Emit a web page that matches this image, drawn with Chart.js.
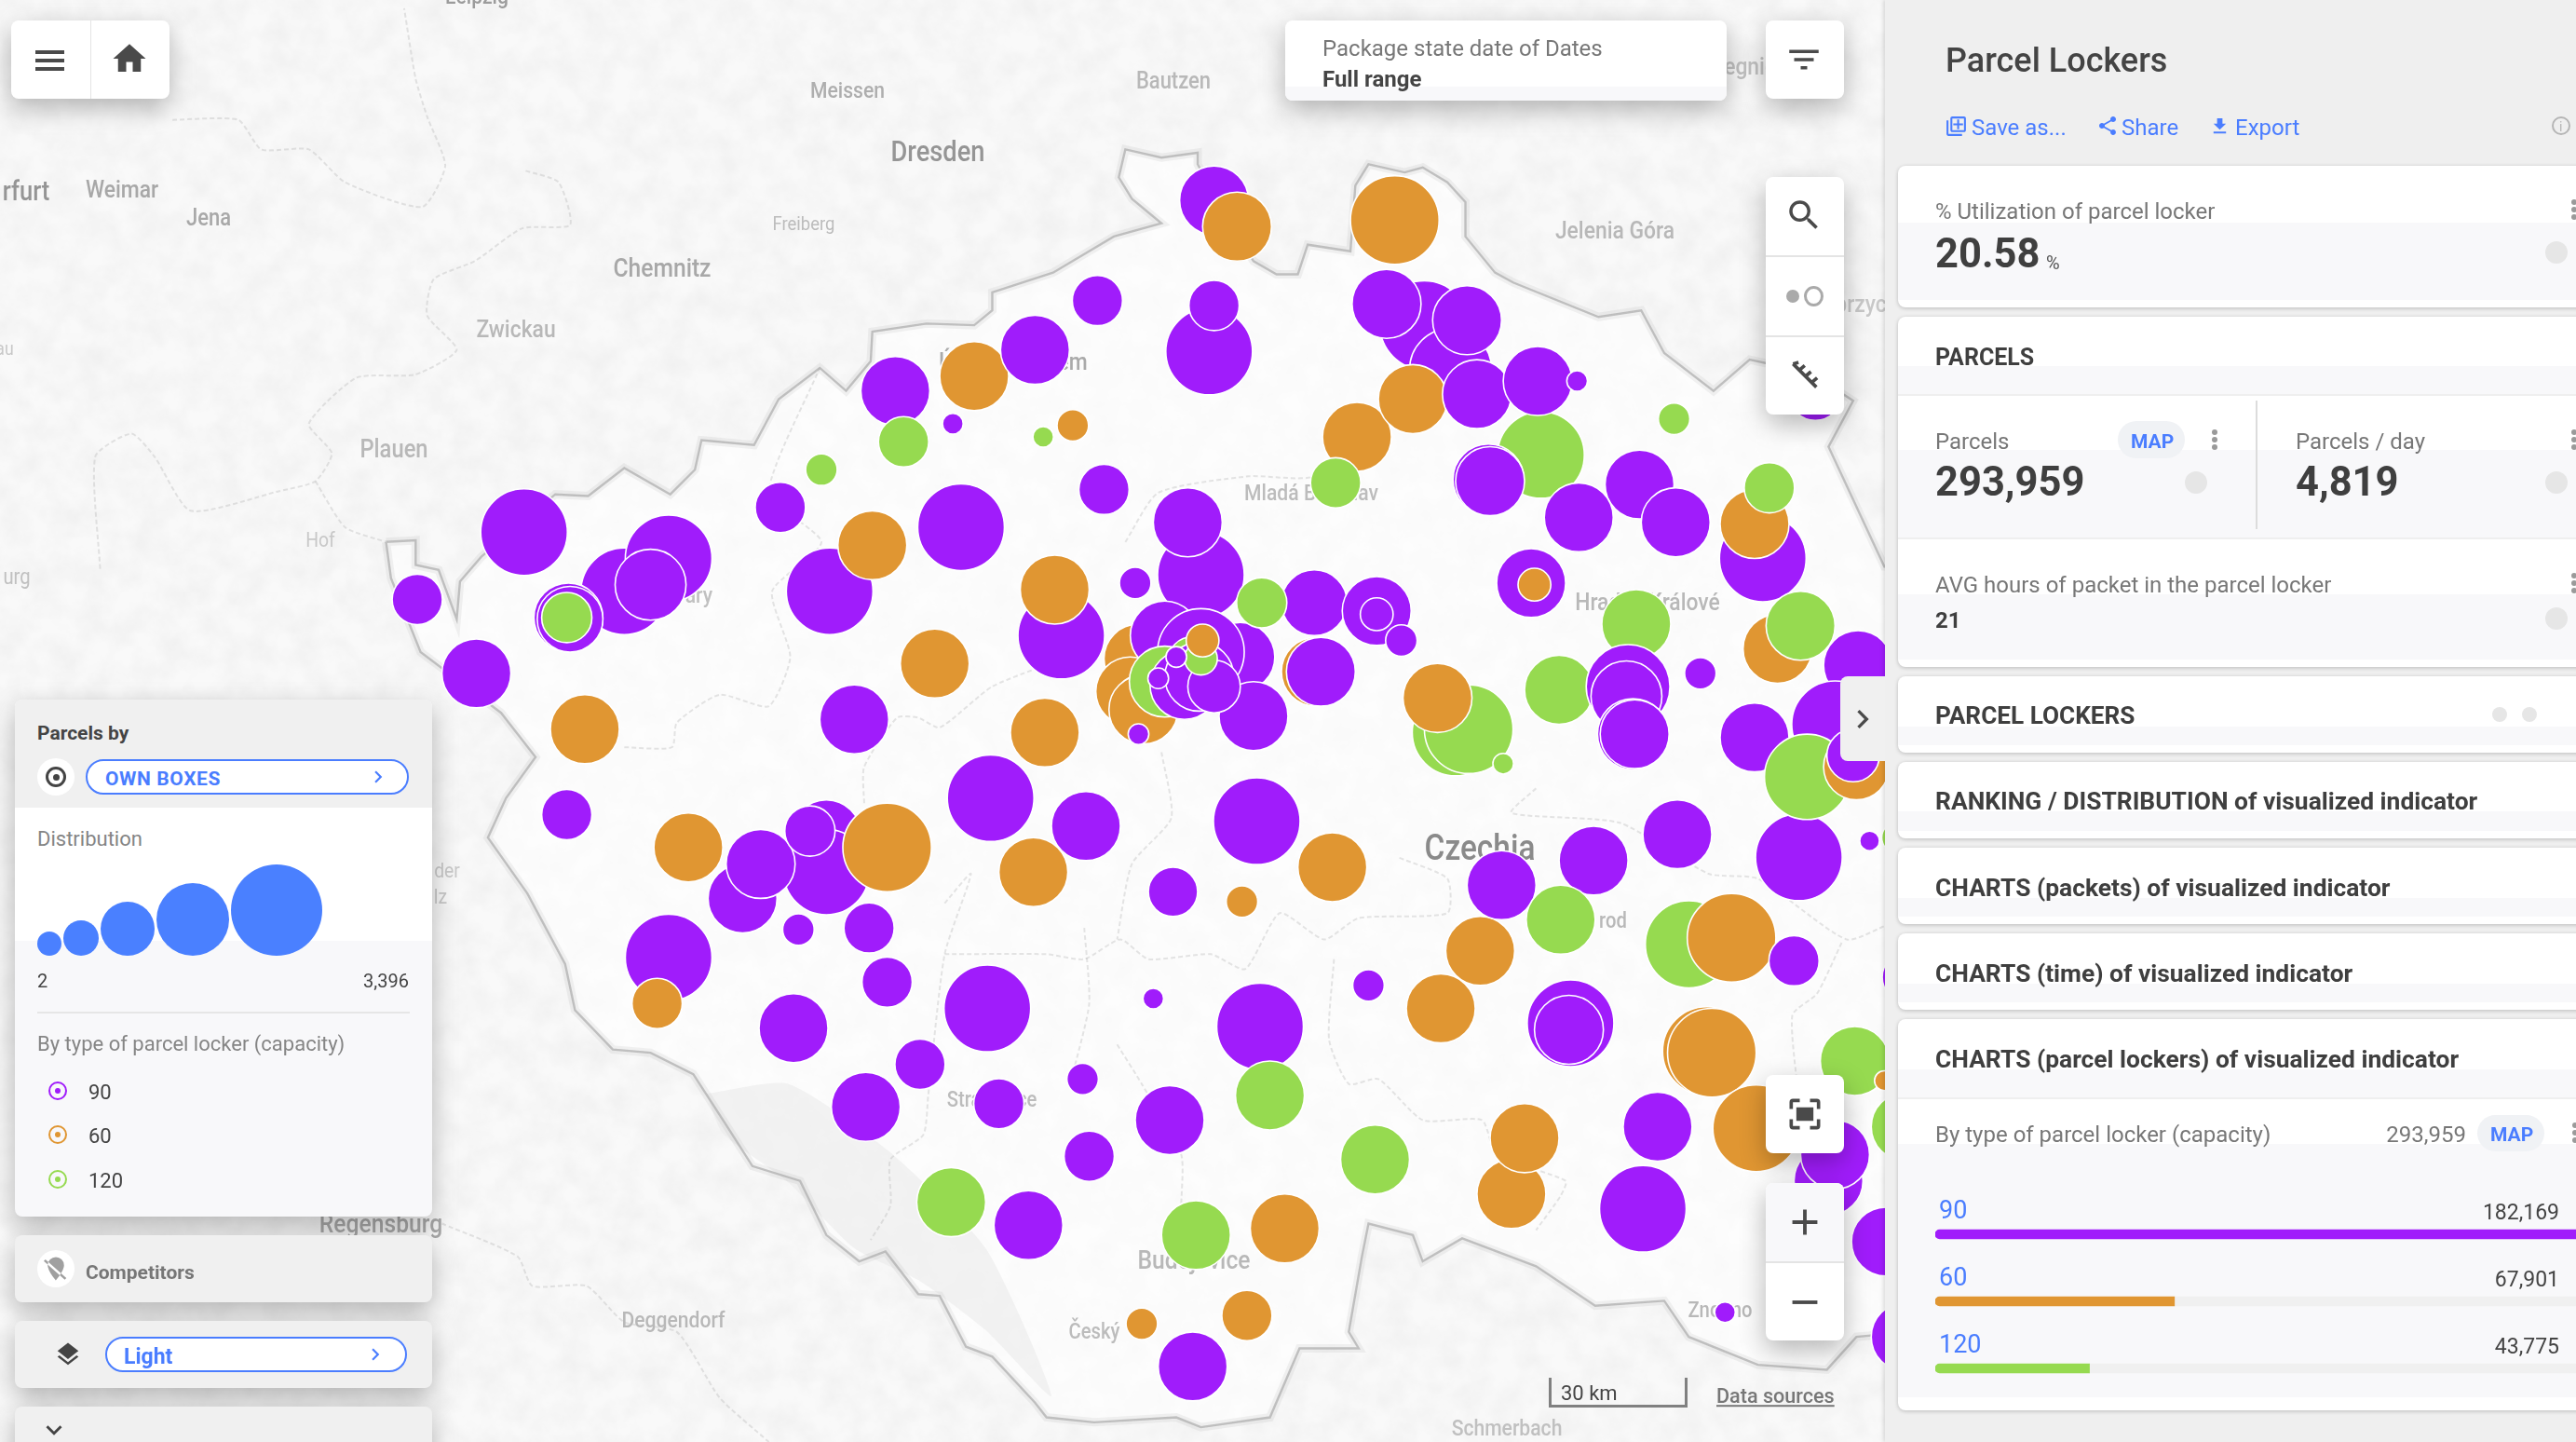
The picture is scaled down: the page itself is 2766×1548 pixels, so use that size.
<!DOCTYPE html>
<html><head><meta charset="utf-8">
<script src="https://cdn.jsdelivr.net/npm/chart.js@4"></script>
<style>
html,body{margin:0;padding:0;width:2766px;height:1548px;overflow:hidden;background:#f9f9f9;font-family:Roboto,sans-serif}
#root{position:absolute;left:0;top:0;width:2766px;height:1548px;overflow:hidden}
canvas{position:absolute}
.t{position:absolute;white-space:nowrap;line-height:1;transform:translateY(-50%)}
.l{position:absolute;white-space:nowrap;line-height:1;transform:translate(-50%,-50%) scaleX(.88)}
.b{position:absolute;box-sizing:border-box}
svg.i{position:absolute;overflow:visible}
</style></head><body><div id="root">
<svg style="position:absolute;left:0;top:0" width="2766" height="1548"><filter id="n" x="0" y="0" width="100%" height="100%"><feTurbulence type="fractalNoise" baseFrequency="0.035" numOctaves="5" seed="7"/><feColorMatrix values="0 0 0 0 0.6  0 0 0 0 0.6  0 0 0 0 0.6  0.3 0 0 0 -0.09"/></filter><rect width="2766" height="1548" filter="url(#n)"/></svg>
<canvas id="mapCanvas" width="2766" height="1548" style="left:0;top:0;width:2766px;height:1548px"></canvas>
<div id="labels"></div>
<canvas id="bubbleCanvas" width="2766" height="1548" style="left:0;top:0;width:2766px;height:1548px"></canvas>
<div id="ui"></div>
</div>
<script>
// ---------- DATA ----------
const lockerX = [739,753,849,668,593,630,545,550,580,635,653,500,736,739,867,844,883,893,938,826,813,860,899,936,960,906,907,1019,1105,998,1020,961,1073,1068,1077,
 319,254,380,407,396,346,347,345,290,475,505,531,585,672,356,345,569,520,636,603,661,629,419,
 503,503,452,463,493,540,486,529,540,407,400,483,601,560,527,608,659,702,712,663,626,579,728,695,726,
 731,723,691,646,642,693,688,696,709,755,763,731,709,721,726,730,739,731,716,705,732,693,
 800,768,838,838,853,801,804,886,894,875,915,
 765,811,714,756,877,901,914,970,950,1021,1095,1138,1028,1054,1092,833,767,773,956,955,1039,1042,1009,1069,1000,920,928,837,782,759,1050,
 1129,1147,1113,1117,1148,1160,1160,1161,1155,
 932,934,996,949,991,990,994,995,1035,1068,1082,1096,1131,1117,1100,1130,1128];
const lockerY = [122,138,134,183,229,213,238,269,258,266,259,286,214,186,198,185,225,195,277,266,294,243,240,232,232,292,293,255,240,295,318,315,340,319,297,
 324,365,360,340,356,376,377,376,410,309,360,332,321,298,444,496,404,438,446,486,503,531,516,
 508,531,547,526,506,516,566,565,598,583,611,626,614,648,674,672,657,608,682,704,746,732,752,806,832,
 350,318,355,387,359,401,421,432,387,400,436,397,415,417,403,412,418,401,400,413,390,447,
 367,367,372,374,390,409,409,446,444,425,465,
 500,528,543,549,614,579,539,524,560,508,522,512,575,571,585,600,625,667,623,627,640,641,686,687,736,727,693,706,748,801,799,
 646,658,719,703,756,814,686,595,510,
 355,356,380,420,418,424,447,447,410,449,395,381,405,441,473,467,460];
const lockerParcels = [1938,1938,3203,1029,1938,1938,1938,1029,174,174,405,405,3062,1029,3203,1938,2746,1938,3062,1938,1029,1938,1938,1938,174,2050,1938,405,1125,1938,1938,1938,3062,1938,1029,
 3062,1029,3062,3062,2050,1938,1758,1029,1938,1029,3062,1938,3062,1029,1938,1029,1938,1938,1938,3062,1938,1938,1938,
 1938,2970,1938,1938,1029,3203,405,1029,1029,3062,1029,1938,3062,1029,1938,1029,405,174,1938,1029,1938,1938,1938,405,1938,
 3062,1938,405,3062,1938,1938,1938,1938,1938,1938,1938,3062,2050,1938,1029,1938,1125,439,174,174,439,174,
 1758,1029,1938,439,405,1938,1938,3062,3203,1938,174,
 3062,1938,989,405,1938,1938,1938,1938,1938,1938,3062,158,3086,3203,1029,405,3062,1938,3062,1938,3203,3203,1938,3062,3062,1938,1938,1938,1938,1029,174,
 1938,158,1938,1938,1938,1938,1938,1029,405,
 1938,439,1938,1938,2857,2050,2050,1938,405,1938,1938,1938,1938,3062,2970,1758,1125];
const lockerCapacity = [90,60,60,90,60,90,90,120,90,120,60,120,90,90,90,90,90,90,120,60,120,60,90,90,90,90,90,120,90,90,90,90,90,60,120,
 90,90,90,90,90,90,90,120,90,90,90,60,90,90,60,90,60,90,60,90,90,60,60,
 90,90,90,90,90,60,90,90,90,90,60,90,90,90,90,90,90,90,90,90,90,120,120,60,90,
 90,90,90,90,60,60,60,60,90,90,90,90,120,90,120,90,90,120,90,90,60,90,
 90,120,90,90,90,60,90,120,120,60,120,
 90,60,90,60,60,60,90,90,120,90,90,90,120,60,90,90,90,120,90,90,60,60,90,60,90,60,60,120,60,60,90,
 120,60,90,90,90,90,120,90,120,
 90,60,120,120,90,90,90,90,90,90,60,120,90,90,120,60,90];
const capacityLabels = ['90','60','120'];
const capacityParcels = [182169,67901,43775];
const distributionValues = [239,511,1190,2151,3396];
const distributionMax = 3396;
// Country outline and regional lines in map grid units
const borderX = [235,253,253,267,278,280,293,338,358,380,408,423,427,459,474,499,515,530,531,564,593,604,604,641,678,707,689,681,685,707,729,729,745,763,777,790,796,822,825,833,855,866,881,892,892,910,921,973,999,1013,1043,1065,1102,1128,1113,1147,1220,1220,1151,1130,1112,1070,1028,1013,971,935,890,866,860,833,829,821,827,791,773,731,716,666,637,630,604,588,572,559,539,523,503,487,458,442,422,396,373,350,344,321,297,308,326,305,256,238,235];
const borderY = [330,329,344,347,377,354,339,301,302,285,301,286,268,271,243,224,238,220,202,197,198,189,178,166,144,136,121,108,91,96,93,100,130,159,167,167,149,153,113,100,105,102,111,123,144,166,172,193,189,215,238,219,227,244,272,345,350,800,812,814,834,831,814,792,795,771,754,768,752,745,765,811,821,821,863,869,863,866,863,854,826,820,789,788,762,768,752,719,710,685,654,641,639,615,587,544,510,486,461,434,397,352,330];
const regionLines = [
 [[105,73],[145,73],[159,91],[188,91],[210,111],[257,126],[271,101],[260,71],[253,48],[246,5]],
 [[320,104],[340,111],[347,137],[318,139],[289,159],[264,170],[260,192],[278,213],[253,228],[217,230],[188,258],[202,276],[192,293],[170,299],[116,311],[94,278],[80,264],[58,278],[61,347]],
 [[192,293],[210,321],[235,330]],
 [[380,455],[409,455],[412,440],[438,423],[468,430],[481,400],[470,360],[500,330],[468,300],[499,224]],
 [[526,489],[526,467],[546,437],[559,437],[572,443],[604,418],[650,400]],
 [[575,581],[637,581],[660,584],[682,572],[699,584],[737,581],[758,590],[779,556],[806,572],[827,559],[881,556],[881,535],[851,522]],
 [[575,550],[591,532],[575,581],[565,667],[562,691],[542,706],[542,734],[530,755]],
 [[660,565],[663,611],[653,654]],
 [[812,584],[809,633],[821,660],[839,657],[866,682],[902,682],[911,703],[953,719],[950,728],[935,749]],
 [[935,480],[920,495],[986,501],[1040,532],[1070,535],[1124,572],[1151,562]],
 [[1121,574],[1106,605],[1091,618],[1095,670]],
 [[707,458],[713,498],[689,526],[680,572]],
 [[680,636],[695,660],[719,703],[719,734]],
 [[685,330],[705,300],[760,290],[800,290],[850,250]],
 [[269,745],[315,765],[324,783],[357,783],[380,805],[412,811],[438,851],[468,878]]
];
const mountainArea = [[430,666],[480,660],[540,700],[600,760],[640,850],[600,810],[560,780],[520,760],[480,720],[440,690],[430,666]];
const cityLabels = [
 ['Leipzig',290,-2,24,'#9c9c9c',500],['Meissen',516,55,24,'#aeaeae',500],['Bautzen',714,49,25,'#b8b8b8',500],['Dresden',571,92,31,'#959595',500],
 ['rfurt',16,116,29,'#959595',500],['Weimar',74,115,26,'#a8a8a8',500],['Jena',127,132,25,'#a8a8a8',500],['Freiberg',489,136,21,'#bcbcbc',400],
 ['Chemnitz',403,163,28,'#a8a8a8',500],['Jelenia Góra',983,140,26,'#b8b8b8',500],['Zwickau',314,200,26,'#b8b8b8',500],['Plauen',240,273,27,'#b8b8b8',500],
 ['Hof',195,329,22,'#c8c8c8',400],['au',3,212,20,'#c8c8c8',400],['urg',10,351,23,'#c0c0c0',400],['Regensburg',232,745,28,'#a8a8a8',500],
 ['Deggendorf',410,803,24,'#b8b8b8',500],['Schmerbach',917,869,24,'#c0c0c0',500],['Czechia',901,516,38,'#8a8a8a',500],['Hradec Králové',1003,366,26,'#b8b8b8',500],
 ['Ústí nad Labem',617,220,26,'#aaaaaa',500],['Mladá Boleslav',798,300,24,'#bcbcbc',500],['Budějovice',727,767,28,'#b8b8b8',500],['Český',666,810,23,'#bcbcbc',500],
 ['Znojmo',1047,797,23,'#b8b8b8',500],['Legnica',1065,40,26,'#c0c0c0',500],['Wałbrzych',1125,185,26,'#c8c8c8',500],['rod',982,560,23,'#b8b8b8',500],
 ['der',272,530,22,'#c8c8c8',400],['lz',268,546,22,'#c8c8c8',400],['Strakonice',604,669,23,'#bcbcbc',500],['Karlovy Vary',400,362,24,'#c0c0c0',500]
];
const palette = {90:'#a01cfb',60:'#e09632',120:'#96da50'};
const accent = '#4a7dff';
// ---------- HELPERS ----------
const S = 2766/1568;
const ui = document.getElementById('ui');
function el(cls,css,html,parent){const d=document.createElement('div');d.className=cls;d.style.cssText=css;if(html!=null)d.textContent=html;(parent||ui).appendChild(d);return d;}
function box(x,y,w,h,bg,extra){return el('b',`left:${x}px;top:${y}px;width:${w}px;height:${h}px;background:${bg};${extra||''}`);}
function txt(x,y,s,size,color,weight,extra){return el('t',`left:${x}px;top:${y+1.5}px;font-size:${size}px;color:${color};font-weight:${weight||400};${extra||''}`,s);}
function rtxt(x,y,s,size,color,weight){return el('t',`right:${2766-x}px;top:${y+1.5}px;font-size:${size}px;color:${color};font-weight:${weight||400}`,s);}
function icon(x,y,size,path,color){const ns='http://www.w3.org/2000/svg';const v=document.createElementNS(ns,'svg');v.setAttribute('class','i');v.setAttribute('viewBox','0 0 24 24');v.setAttribute('width',size);v.setAttribute('height',size);v.style.left=(x-size/2)+'px';v.style.top=(y-size/2)+'px';const p=document.createElementNS(ns,'path');p.setAttribute('d',path);p.setAttribute('fill',color);v.appendChild(p);ui.appendChild(v);}
function dot(x,y,r,color){box(x-r,y-r,2*r,2*r,color,'border-radius:50%');}
function kebab(x,y,c){for(const d of [-8,0,8])dot(x,y+d,3.2,c||'#9a9a9a');}
const SH='box-shadow:0 10px 28px rgba(0,0,0,.28);';
const P={home:'M10 20v-6h4v6h5v-8h3L12 3 2 12h3v8z',search:'M15.5 14h-.79l-.28-.27A6.47 6.47 0 0 0 16 9.5 6.5 6.5 0 1 0 9.5 16c1.61 0 3.09-.59 4.23-1.57l.27.28v.79l5 4.99L20.49 19l-4.99-5zm-6 0C7.01 14 5 11.99 5 9.5S7.01 5 9.5 5 14 7.01 14 9.5 11.99 14 9.5 14z',filter:'M10 18h4v-2h-4v2zM3 6v2h18V6H3zm3 7h12v-2H6v2z',share:'M18 16.08c-.76 0-1.44.3-1.96.77L8.91 12.7c.05-.23.09-.46.09-.7s-.04-.47-.09-.7l7.05-4.11c.54.5 1.25.81 2.04.81 1.66 0 3-1.34 3-3s-1.34-3-3-3-3 1.34-3 3c0 .24.04.47.09.7L8.04 9.81C7.5 9.31 6.79 9 6 9c-1.66 0-3 1.34-3 3s1.34 3 3 3c.79 0 1.5-.31 2.04-.81l7.12 4.16c-.05.21-.08.43-.08.65 0 1.61 1.31 2.92 2.92 2.92 1.61 0 2.92-1.31 2.92-2.92s-1.31-2.92-2.92-2.92z',down:'M19 9h-4V3H9v6H5l7 7 7-7zM5 18v2h14v-2H5z',layers:'M11.99 18.54l-7.37-5.73L3 14.07l9 7 9-7-1.63-1.27-7.38 5.74zM12 16l7.36-5.73L21 9l-9-7-9 7 1.63 1.27L12 16z',right:'M10 6L8.59 7.41 13.17 12l-4.58 4.59L10 18l6-6z',more:'M16.59 8.59L12 13.17 7.41 8.59 6 10l6 6 6-6z',add:'M4 6H2v14c0 1.1.9 2 2 2h14v-2H4V6zm16-4H8c-1.1 0-2 .9-2 2v12c0 1.1.9 2 2 2h12c1.1 0 2-.9 2-2V4c0-1.1-.9-2-2-2zm0 14H8V4h12v12zm-1-7h-4V5h-2v4H9v2h4v4h2v-4h4V9z',crop:'M3 9V5a2 2 0 0 1 2-2h4v2H5v4H3zm12-6h4a2 2 0 0 1 2 2v4h-2V5h-4V3zM3 15h2v4h4v2H5a2 2 0 0 1-2-2v-4zm16 0h2v4a2 2 0 0 1-2 2h-4v-2h4v-4zM7 8h10v8H7z',plus:'M19 13h-6v6h-2v-6H5v-2h6V5h2v6h6v2z',minus:'M19 13H5v-2h14v2z',ruler:'M5 4l15 15M5 4l3.5-1M9 8l3.5-3M13 12l3.5-3M17 16l3.5-3',comp:'M12 2a7 7 0 0 0-7 7c0 5 7 13 7 13s7-8 7-13a7 7 0 0 0-7-7zM3 4l18 16-1.4 1.4L1.6 5.4z'};
// ---------- MAP LABELS (below the bubbles) ----------
const lab=document.getElementById('labels');
cityLabels.forEach(([s,x,y,z,c,w])=>el('l',`left:${x*S}px;top:${y*S}px;font-size:${z}px;color:${c};font-weight:${w}`,s,lab));
// ---------- CHARTS ----------
const gridScales = ()=>({x:{type:'linear',min:0,max:1568,display:false},y:{type:'linear',min:0,max:878,reverse:true,display:false}});
const base = {responsive:false,devicePixelRatio:1,animation:false,layout:{padding:0,autoPadding:false},plugins:{legend:{display:false},tooltip:{enabled:false}},events:[]};
const toPts = a=>a.map(([x,y])=>({x,y}));
const outline = borderX.map((x,i)=>({x,y:borderY[i]}));
new Chart(document.getElementById('mapCanvas'),{type:'line',data:{datasets:[
  ...regionLines.map((l,i)=>({data:toPts(l),borderColor:'rgba(175,175,175,.32)',borderWidth:2,borderDash:[5,3],pointRadius:0,tension:.2,fill:false,order:1})),
  {data:outline,borderColor:'rgba(175,175,175,.75)',borderWidth:2.4,pointRadius:0,tension:0,fill:false,order:2},
  {data:outline,borderColor:'rgba(160,160,160,.14)',borderWidth:9,pointRadius:0,tension:0,fill:false,order:3},
  {data:toPts(mountainArea),borderWidth:0,pointRadius:0,tension:.2,fill:'shape',backgroundColor:'rgba(232,232,232,.5)',order:4},
  {data:outline,borderWidth:0,pointRadius:0,tension:0,fill:'shape',backgroundColor:'rgba(255,255,255,.6)',order:5}
]},options:{...base,scales:gridScales()}});
const radiusOf = v=>49*Math.sqrt(v/distributionMax);
new Chart(document.getElementById('bubbleCanvas'),{type:'bubble',data:{datasets:[{
  data:lockerX.map((x,i)=>({x,y:lockerY[i],r:radiusOf(lockerParcels[i])})),
  backgroundColor:lockerCapacity.map(c=>palette[c]),borderColor:'#ffffff',borderWidth:1.6,hoverBorderWidth:1.6
}]},options:{...base,scales:gridScales()}});
// ---------- OVERLAY UI ----------
// top-left
box(12,22,170,84,'#fff','border-radius:8px;'+SH);box(97,22,1,84,'#e4e4e4');
for(const y of [54,63,72])box(38,y,31,4,'#4a4a4a');
icon(139,63,42,P.home,'#4a4a4a');
// date pill
box(1380,22,474,86,'#fff','border-radius:8px;'+SH);box(1380,93,474,15,'#f8f8fa','border-radius:0 0 8px 8px');
txt(1420,50,'Package state date of Dates',24,'#777');txt(1420,83,'Full range',24,'#444',700);
box(1896,22,84,84,'#fff','border-radius:8px;'+SH);icon(1937,64,42,P.filter,'#4a4a4a');
// tool column
box(1896,190,84,255,'#fff','border-radius:8px;'+SH);box(1896,274,84,2,'#e4e4e4');box(1896,360,84,2,'#e4e4e4');
icon(1937,231,42,P.search,'#4a4a4a');
dot(1925,318,7,'#aaa');box(1937,307,21,22,'#fff','border:3.5px solid #aaa;border-radius:50%');
{const ns='http://www.w3.org/2000/svg';const v=document.createElementNS(ns,'svg');v.setAttribute('class','i');v.setAttribute('viewBox','0 0 24 24');v.setAttribute('width',40);v.setAttribute('height',40);v.style.left='1917px';v.style.top='384px';const p=document.createElementNS(ns,'path');p.setAttribute('d',P.ruler);p.setAttribute('stroke','#4a4a4a');p.setAttribute('stroke-width','2.2');p.setAttribute('fill','none');v.appendChild(p);ui.appendChild(v);}
// zoom controls
box(1896,1154,84,84,'#fff','border-radius:8px;'+SH);icon(1938,1196,44,P.crop,'#4a4a4a');
box(1896,1270,84,169,'#fff','border-radius:8px;'+SH);box(1896,1270,84,84,'#f8f8fa','border-radius:8px 8px 0 0');box(1896,1354,84,2,'#e4e4e4');
icon(1938,1312,46,P.plus,'#4a4a4a');icon(1938,1398,46,P.minus,'#4a4a4a');
// scale and sources
box(1663,1479,149,32,'transparent','border-left:3px solid #808080;border-right:3px solid #808080;border-bottom:3px solid #808080');
txt(1676,1494,'30 km',22,'#444');
txt(1843,1497,'Data sources',21.6,'#777',500,'text-decoration:underline');
// left panel
box(16,751,448,555,'#f8f8fa','border-radius:8px;'+SH);
box(16,751,448,116,'#f0f0f0','border-radius:8px 8px 0 0');box(16,867,448,143,'#fff');
txt(40,785,'Parcels by',21,'#444',700);
dot(60,834,20,'#fff');box(49,823,22,22,'transparent','border:3px solid #444;border-radius:50%');dot(60,834,3.5,'#444');
box(92,815,347,38,'#fff',`border:2px solid ${accent};border-radius:19px`);
txt(113,834,'OWN BOXES',21,accent,700,'letter-spacing:.6px');icon(406,834,26,P.right,accent);
txt(40,899,'Distribution',22,'#858585');
const lc=document.createElement('canvas');lc.width=340;lc.height=120;lc.style.cssText='left:30px;top:920px;width:340px;height:120px';ui.appendChild(lc);
let run=10;
const legendPts=distributionValues.map(v=>{const r=radiusOf(v);const p={x:run+r,y:106-r,r};run+=2*r+2;return p;});
new Chart(lc,{type:'bubble',data:{datasets:[{data:legendPts,backgroundColor:'#4a80ff',borderWidth:0}]},options:{...base,scales:{x:{type:'linear',min:0,max:340,display:false},y:{type:'linear',min:0,max:120,reverse:true,display:false}}}});
txt(40,1051,'2',20,'#444');rtxt(439,1051,'3,396',20,'#444');
box(40,1086,400,2,'#e6e6e6');
txt(40,1119,'By type of parcel locker (capacity)',22,'#858585');
capacityLabels.forEach((c,i)=>{const y=[1171,1218,1266][i];box(52,y-10,20,20,'transparent',`border:2.5px solid ${palette[c]};border-radius:50%`);dot(62,y,3,palette[c]);txt(95,y,c,22,'#444');});
box(16,1326,448,72,'#f0f0f0','border-radius:8px;'+SH);dot(60,1362,20,'#fff');icon(60,1362,30,P.comp,'#a0a0a0');txt(92,1364,'Competitors',21,'#777',700);
box(16,1418,448,72,'#f0f0f0','border-radius:8px;'+SH);icon(73,1454,30,P.layers,'#444');
box(113,1435,324,38,'#fff',`border:2px solid ${accent};border-radius:19px`);txt(133,1454,'Light',23,accent,700);icon(403,1454,26,P.right,accent);
box(16,1510,448,60,'#f0f0f0','border-radius:8px;'+SH);icon(58,1535,34,P.more,'#444');
// right panel
box(2024,0,742,1548,'#efefef','box-shadow:-2px 0 4px rgba(0,0,0,.12)');
box(1976,726,48,91,'#f0f0f0','border-radius:8px 0 0 8px;');icon(2000,772,40,P.right,'#4a4a4a');
txt(2089,63,'Parcel Lockers',36,'#444',500);
icon(2100,135,25,P.add,accent);txt(2117,135,'Save as...',24,accent);
icon(2263,135,24,P.share,accent);txt(2278,135,'Share',24,accent);
icon(2383,135,23,P.down,accent);txt(2400,135,'Export',24,accent);
box(2740,125,20,20,'transparent','border:2px solid #b5b5b5;border-radius:50%');txt(2748,134,'i',14,'#b5b5b5');
function card(y1,y2,bands){box(2038,y1,760,y2-y1,'#fff','border-radius:8px;box-shadow:0 1px 4px rgba(0,0,0,.22)');(bands||[]).forEach(([a,b])=>box(2038,a,728,b-a,'#f8f8fa'));}
card(178,330,[[239,322]]);
txt(2078,225,'% Utilization of parcel locker',24,'#777');
txt(2078,271,'20.58',43.5,'#3f3f3f',700);txt(2197,280,'%',20,'#555');kebab(2764,225);dot(2745,271,12,'#e6e6e6');
card(340,716,[[393,423],[483,577],[638,708]]);
txt(2078,381,'PARCELS',25,'#3f3f3f',700);
box(2038,423,728,2,'#efefef');box(2038,577,728,2,'#efefef');box(2422,430,2,138,'#dcdcdc');
txt(2078,472,'Parcels',24,'#777');box(2274,452,72,40,'#f0f2f5','border-radius:20px');txt(2288,472,'MAP',21,accent,700);kebab(2378,472);
txt(2078,516,'293,959',43.5,'#3f3f3f',700);dot(2358,518,12,'#e6e6e6');
txt(2465,472,'Parcels / day',24,'#777');txt(2465,516,'4,819',43.5,'#3f3f3f',700);kebab(2764,472);dot(2745,518,12,'#e6e6e6');
txt(2078,626,'AVG hours of packet in the parcel locker',24,'#777');kebab(2764,626);
txt(2078,664,'21',24,'#3f3f3f',700);dot(2745,664,12,'#e6e6e6');
card(726,808,[[780,800]]);txt(2078,766,'PARCEL LOCKERS',26.2,'#3f3f3f',700);dot(2684,767,8,'#e6e6e6');dot(2716,767,8,'#e6e6e6');
card(818,900,[[871,892]]);txt(2078,858,'RANKING / DISTRIBUTION of visualized indicator',26.4,'#3f3f3f',700);
card(910,992,[[964,984]]);txt(2078,951,'CHARTS (packets) of visualized indicator',26.4,'#3f3f3f',700);
card(1002,1084,[[1056,1076]]);txt(2078,1043,'CHARTS (time) of visualized indicator',26.4,'#3f3f3f',700);
card(1094,1514,[[1148,1178],[1228,1500]]);txt(2078,1135,'CHARTS (parcel lockers) of visualized indicator',26.4,'#3f3f3f',700);
box(2038,1178,728,2,'#efefef');
txt(2078,1216,'By type of parcel locker (capacity)',24,'#777');rtxt(2648,1216,'293,959',24,'#777');
box(2660,1197,72,39,'#f0f2f5','border-radius:20px');txt(2674,1216,'MAP',21,accent,700);kebab(2765,1216);
capacityLabels.forEach((c,i)=>{const yy=[1297,1369,1441][i];txt(2082,yy,c,27,accent);rtxt(2748,yy+2,capacityParcels[i].toLocaleString('en-US'),23,'#444');});
const bc=document.createElement('canvas');bc.width=689;bc.height=216;bc.style.cssText='left:2078px;top:1289px;width:689px;height:216px';ui.appendChild(bc);
const maxParcels=Math.max(...capacityParcels);
new Chart(bc,{type:'bar',data:{labels:capacityLabels,datasets:[
  {data:capacityParcels,backgroundColor:capacityLabels.map(c=>palette[c]),barThickness:10,borderRadius:{topLeft:5,bottomLeft:5},borderSkipped:false,stack:'s'},
  {data:capacityParcels.map(v=>maxParcels-v),backgroundColor:'#f0f0f0',barThickness:10,stack:'s'}
]},options:{...base,indexAxis:'y',scales:{x:{type:'linear',min:0,max:maxParcels,display:false,stacked:true},y:{type:'category',display:false,stacked:true}}}});
</script></body></html>
